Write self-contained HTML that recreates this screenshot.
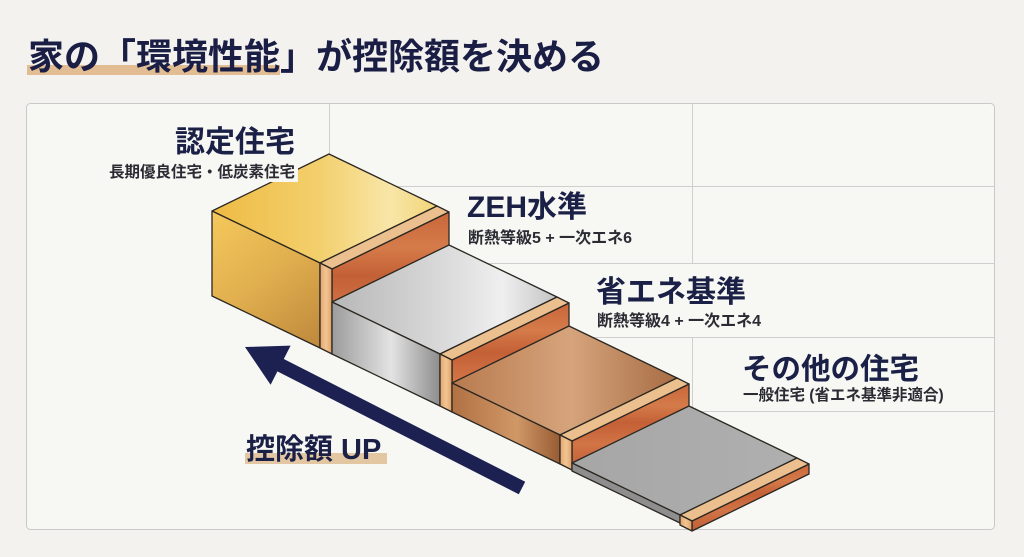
<!DOCTYPE html>
<html><head><meta charset="utf-8">
<style>
html,body{margin:0;padding:0;}
body{width:1024px;height:557px;background:#f3f2ee;position:relative;overflow:hidden;font-family:"Liberation Sans","Noto Sans CJK JP",sans-serif;}
.t{position:absolute;white-space:nowrap;line-height:1;font-weight:700;}
svg{position:absolute;left:0;top:0;}
</style></head><body>
<svg width="1024" height="557" viewBox="0 0 1024 557">
<defs>
<linearGradient id="goldTop" gradientUnits="userSpaceOnUse" x1="212" y1="0" x2="449" y2="0">
<stop offset="0" stop-color="#eebb44"/><stop offset="0.45" stop-color="#f3cf6c"/><stop offset="0.75" stop-color="#f8e6a8"/><stop offset="1" stop-color="#f0d06a"/></linearGradient>
<linearGradient id="goldLeft" gradientUnits="userSpaceOnUse" x1="212" y1="211" x2="320" y2="348">
<stop offset="0" stop-color="#f5c95c"/><stop offset="0.5" stop-color="#e0ae4e"/><stop offset="1" stop-color="#bd883c"/></linearGradient>
<linearGradient id="silverTop" gradientUnits="userSpaceOnUse" x1="332" y1="0" x2="569" y2="0">
<stop offset="0" stop-color="#b7b7b7"/><stop offset="0.5" stop-color="#dcdcdc"/><stop offset="0.72" stop-color="#efefef"/><stop offset="1" stop-color="#bababa"/></linearGradient>
<linearGradient id="silverLeft" gradientUnits="userSpaceOnUse" x1="332" y1="0" x2="440" y2="0">
<stop offset="0" stop-color="#9c9c9c"/><stop offset="0.55" stop-color="#e3e3e3"/><stop offset="1" stop-color="#8d8d8d"/></linearGradient>
<linearGradient id="copperTop" gradientUnits="userSpaceOnUse" x1="452" y1="0" x2="689" y2="0">
<stop offset="0" stop-color="#b87a4e"/><stop offset="0.5" stop-color="#d6a47c"/><stop offset="1" stop-color="#a2663d"/></linearGradient>
<linearGradient id="copperLeft" gradientUnits="userSpaceOnUse" x1="452" y1="0" x2="560" y2="0">
<stop offset="0" stop-color="#b07143"/><stop offset="0.6" stop-color="#d09767"/><stop offset="1" stop-color="#985c33"/></linearGradient>
<linearGradient id="grayTop" gradientUnits="userSpaceOnUse" x1="572" y1="0" x2="809" y2="0">
<stop offset="0" stop-color="#a6a6a6"/><stop offset="1" stop-color="#b0b0b0"/></linearGradient>
<linearGradient id="plankFront" x1="0" y1="0" x2="0" y2="1">
<stop offset="0" stop-color="#c8663a"/><stop offset="0.25" stop-color="#d57b4a"/><stop offset="0.45" stop-color="#c46036"/><stop offset="0.7" stop-color="#d17446"/><stop offset="1" stop-color="#bf5e36"/></linearGradient>
<linearGradient id="plankEnd" x1="0" y1="0" x2="1" y2="0">
<stop offset="0" stop-color="#e4a56e"/><stop offset="0.5" stop-color="#f1c593"/><stop offset="1" stop-color="#e0a068"/></linearGradient>
</defs>

<!-- panel -->
<rect x="26.5" y="103.5" width="968" height="426" rx="4" fill="#f7f7f4" stroke="#c9c9c9" stroke-width="1"/>
<!-- grid -->
<g stroke="#cfcfcf" stroke-width="1" fill="none">
<line x1="329.5" y1="104" x2="329.5" y2="156"/>
<line x1="692.5" y1="104" x2="692.5" y2="263"/>
<line x1="692.5" y1="337" x2="692.5" y2="411"/>
<line x1="329" y1="186.5" x2="994" y2="186.5"/>
<line x1="335" y1="263.5" x2="994" y2="263.5"/>
<line x1="335" y1="337.5" x2="994" y2="337.5"/>
<line x1="692" y1="411.5" x2="994" y2="411.5"/>
</g>

<!-- title highlight -->
<rect x="27" y="65" width="253" height="10" fill="#e2bd93"/>
<!-- UP highlight -->
<rect x="245" y="453" width="142" height="11" fill="#e3c6a2"/>

<!-- arrow -->
<polygon points="245,347 290.6,345.6 283.8,359 525.2,481.8 518.8,494.2 277.4,371.4 270.6,384.8" fill="#1c2152"/>

<g stroke="#2b2722" stroke-width="1.3" stroke-linejoin="round">
<!-- Block 0 gold -->
<polygon points="212,211 329,154 437,206 320,263" fill="url(#goldTop)"/>
<polygon points="212,211 320,263 320,348 212,296" fill="url(#goldLeft)"/>
<polygon points="332,269 449,212 449,297 332,354" fill="url(#plankFront)"/>
<polygon points="320,263 437,206 449,212 332,269" fill="#ecc08e"/>
<polygon points="320,263 332,269 332,354 320,348" fill="url(#plankEnd)"/>

<!-- Block 1 silver -->
<polygon points="332,302 449,245 557,297 440,354" fill="url(#silverTop)"/>
<polygon points="332,302 440,354 440,406 332,354" fill="url(#silverLeft)"/>
<polygon points="452,360 569,303 569,355 452,412" fill="url(#plankFront)"/>
<polygon points="440,354 557,297 569,303 452,360" fill="#ecc08e"/>
<polygon points="440,354 452,360 452,412 440,406" fill="url(#plankEnd)"/>

<!-- Block 2 copper -->
<polygon points="452,383 569,326 677,378 560,435" fill="url(#copperTop)"/>
<polygon points="452,383 560,435 560,464 452,412" fill="url(#copperLeft)"/>
<polygon points="572,441 689,384 689,413 572,470" fill="url(#plankFront)"/>
<polygon points="560,435 677,378 689,384 572,441" fill="#ecc08e"/>
<polygon points="560,435 572,441 572,470 560,464" fill="url(#plankEnd)"/>

<!-- Block 3 gray -->
<polygon points="572,463 689,406 797,458 680,515" fill="url(#grayTop)"/>
<polygon points="572,463 680,515 680,523 572,471" fill="#8e8e8e"/>
<polygon points="692,521 809,464 809,474 692,531" fill="url(#plankFront)"/>
<polygon points="680,515 797,458 809,464 692,521" fill="#ecc08e"/>
<polygon points="680,515 692,521 692,531 680,525" fill="url(#plankEnd)"/>
</g>

<!-- subtitle background -->
<rect x="104" y="161" width="194" height="21" fill="#f7f7f4"/>
</svg>

<div class="t" style="left:28px;top:39px;font-size:36px;color:#1a1e45">家の「環境性能」が控除額を決める</div>

<div class="t" style="right:729px;top:127.5px;font-size:30px;color:#1b2046">認定住宅</div>
<div class="t" style="right:729px;top:165px;font-size:15.5px;color:#2b2b33">長期優良住宅・低炭素住宅</div>

<div class="t" style="left:467px;top:192.5px;font-size:30px;color:#1b2046">ZEH水準</div>
<div class="t" style="left:468px;top:230.5px;font-size:16px;color:#2b2b33">断熱等級5 + 一次エネ6</div>

<div class="t" style="left:596px;top:277.5px;font-size:30px;color:#1b2046">省エネ基準</div>
<div class="t" style="left:597px;top:314px;font-size:16px;color:#2b2b33">断熱等級4 + 一次エネ4</div>

<div class="t" style="left:742px;top:355px;font-size:29.5px;color:#1b2046">その他の住宅</div>
<div class="t" style="left:743px;top:388px;font-size:15.5px;color:#2b2b33">一般住宅 (省エネ基準非適合)</div>

<div class="t" style="left:246px;top:435.5px;font-size:29px;color:#1b2046">控除額 UP</div>
</body></html>
